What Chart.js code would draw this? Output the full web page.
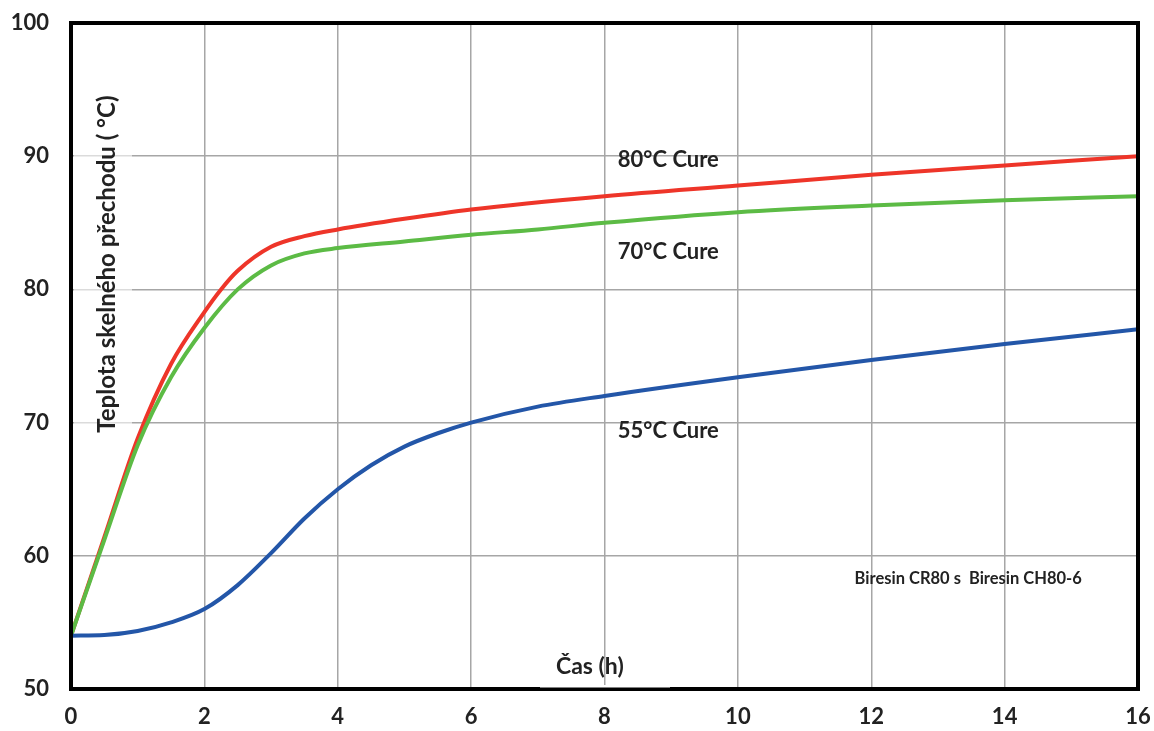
<!DOCTYPE html>
<html>
<head>
<meta charset="utf-8">
<script src="https://cdn.jsdelivr.net/npm/chart.js@4"></script>
<style>
  html, body { margin: 0; padding: 0; background: #fff; }
  #wrap { width: 1154px; height: 731px; }
</style>
</head>
<body>
<div id="wrap"><canvas id="myChart" width="1154" height="731"></canvas></div>
<script>
// hodnoty
var casy80 = [0, 0.5, 1, 1.5, 2, 2.25, 2.5, 3, 3.5, 4, 5, 6, 8, 10, 12, 14, 16];
var tg80 = [54, 61.4, 68.8, 74.4, 78.3, 80, 81.4, 83.2, 84, 84.5, 85.3, 86, 87, 87.8, 88.6, 89.3, 90];

var casy70 = [0, 0.5, 1, 1.5, 2, 2.5, 3, 3.5, 4, 5, 6, 7, 8, 10, 12, 14, 16];
var tg70 = [54, 61.2, 68.3, 73.4, 77.1, 80, 81.8, 82.7, 83.1, 83.6, 84.1, 84.5, 85, 85.8, 86.3, 86.7, 87];

var casy55 = [0, 0.5, 1, 1.5, 2, 2.5, 3, 3.5, 4, 4.5, 5, 5.5, 6, 7, 8, 10, 12, 14, 16];
var tg55 = [54, 54.05, 54.35, 55, 56, 57.8, 60.2, 62.8, 65, 66.8, 68.2, 69.2, 70, 71.2, 72, 73.4, 74.7, 75.9, 77];

var xTicks = [0, 2, 4, 6, 8, 10, 12, 14, 16];
var yTicks = [50, 60, 70, 80, 90, 100];

var fontName = "Lato, 'Open Sans', sans-serif";

function body(xs, ys) {
    var out = [];
    for (var i = 0; i < xs.length; i++) out.push({x: xs[i], y: ys[i]});
    return out;
}

var popisky = {
    id: 'popisky',
    beforeDatasetsDraw: function (chart) {
        var c = chart.ctx, a = chart.chartArea;
        c.save();
        // poloprůhledný box za popiskem osy y
        c.fillStyle = 'rgba(255,255,255,0.6)';
        c.fillRect(a.left + 3, 90, 58, 355);
        c.restore();
    },
    afterDraw: function (chart) {
        var c = chart.ctx, a = chart.chartArea;
        var xs = chart.scales.x, ys = chart.scales.y;
        c.save();
        c.strokeStyle = '#000';
        c.lineWidth = 4;
        c.strokeRect(a.left, a.top, a.right - a.left, a.bottom - a.top);
        // bílý box pod "Čas (h)"
        c.fillStyle = '#fff';
        c.fillRect(540, a.bottom - 4, 130, 2.5);

        c.fillStyle = '#222';
        c.font = "bold 22px " + fontName;
        c.textBaseline = 'middle';
        c.textAlign = 'left';
        c.fillText('80°C Cure', xs.getPixelForValue(8.2), ys.getPixelForValue(89.7));
        c.fillText('70°C Cure', xs.getPixelForValue(8.2), ys.getPixelForValue(82.8));
        c.fillText('55°C Cure', xs.getPixelForValue(8.2), ys.getPixelForValue(69.4));
        c.font = "bold 23px " + fontName;
        c.textAlign = 'center';
        c.fillText('Čas (h)', xs.getPixelForValue(7.78), ys.getPixelForValue(51.7));
        c.font = "bold 16.5px " + fontName;
        c.textAlign = 'left';
        c.fillText('Biresin CR80 s  Biresin CH80-6', xs.getPixelForValue(11.75), ys.getPixelForValue(58.3));

        c.font = "bold 24px " + fontName;
        c.translate(xs.getPixelForValue(0.54), ys.getPixelForValue(81.9));
        c.rotate(-Math.PI / 2);
        c.textAlign = 'center';
        c.fillText('Teplota skelného přechodu ( °C)', 0, 0);
        c.restore();
    }
};

var area = document.getElementById("myChart").getContext("2d");
var urChart = new Chart(area, {
    type: 'line',
    data: {
        datasets: [{
            label: "55°C Cure",
            data: body(casy55, tg55),
            borderColor: '#2356a8',
            borderWidth: 4,
            pointRadius: 0,
            cubicInterpolationMode: 'monotone',
        }, {
            label: "70°C Cure",
            data: body(casy70, tg70),
            borderColor: '#5cbb45',
            borderWidth: 4,
            pointRadius: 0,
            cubicInterpolationMode: 'monotone',
        }, {
            label: "80°C Cure",
            data: body(casy80, tg80),
            borderColor: '#ee3529',
            borderWidth: 4,
            pointRadius: 0,
            cubicInterpolationMode: 'monotone',
        }]
    },
    options: {
        responsive: false,
        animation: false,
        layout: {
            padding: {top: 23, right: 0, left: 0, bottom: 0}
        },
        scales: {
            x: {
                type: 'linear',
                min: 0,
                max: 16,
                afterBuildTicks: function (scale) {
                    scale.ticks = xTicks.map(function (v) { return {value: v}; });
                },
                afterFit: function (scale) {
                    scale.height = 42;
                    scale.paddingRight = 16;
                },
                ticks: {
                    color: '#222',
                    padding: 15,
                    font: {family: fontName, size: 22, weight: 'bold'}
                },
                grid: {
                    color: '#a6a6a6',
                    lineWidth: 1.5,
                    drawTicks: false
                },
                border: {display: false}
            },
            y: {
                min: 50,
                max: 100,
                afterBuildTicks: function (scale) {
                    scale.ticks = yTicks.map(function (v) { return {value: v}; });
                },
                afterFit: function (scale) {
                    scale.width = 71;
                    scale.paddingTop = 0;
                    scale.paddingBottom = 0;
                },
                ticks: {
                    color: '#222',
                    padding: 22,
                    font: {family: fontName, size: 22, weight: 'bold'}
                },
                grid: {
                    color: '#a6a6a6',
                    lineWidth: 1.5,
                    drawTicks: false
                },
                border: {display: false}
            }
        },
        plugins: {
            legend: {display: false},
            tooltip: {enabled: false}
        }
    },
    plugins: [popisky]
});
</script>
</body>
</html>
